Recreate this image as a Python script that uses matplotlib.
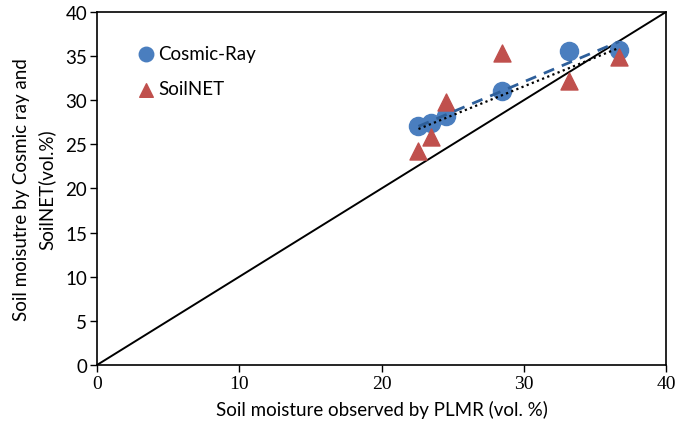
import numpy as np
import matplotlib
matplotlib.use("Agg")
import matplotlib.pyplot as plt

# PLMR observations (x) and the two sensor estimates (y), vol.%
plmr = [22.6, 23.5, 24.5, 28.5, 33.2, 36.7]
cosmic_ray = [27.1, 27.4, 28.2, 31.0, 35.6, 35.7]
soilnet = [24.2, 25.8, 29.8, 35.3, 32.2, 34.9]

x_ticks = [0, 10, 20, 30, 40]
y_ticks = [0, 5, 10, 15, 20, 25, 30, 35, 40]
y_label_lines = ["Soil moisutre by Cosmic ray and", "SoilNET(vol.%)"]

BLUE = "#4a7ebf"
RED = "#c0504d"

fig = plt.figure(figsize=(6.9, 4.27), dpi=100)
ax = fig.add_axes([0.1406, 0.1429, 0.8246, 0.8267])

# 1:1 line
ax.plot([0, 40], [0, 40], color="black", lw=1.4, zorder=1)

ax.scatter(plmr, cosmic_ray, s=170, marker="o", color=BLUE, label="Cosmic-Ray", zorder=3)
ax.scatter(plmr, soilnet, s=150, marker="^", color=RED, label="SoilNET", zorder=3)

# linear trend lines
xs = np.array([min(plmr), max(plmr)])
k, b = np.polyfit(plmr, cosmic_ray, 1)
ax.plot(xs, k * xs + b, color="#2e5f9a", lw=2, ls=(0, (4, 3)), zorder=4)
k, b = np.polyfit(plmr, soilnet, 1)
ax.plot(xs, k * xs + b, color="black", lw=1.6, ls=(0, (1, 1.5)), zorder=4)

ax.set_xlim(0, 40)
ax.set_ylim(0, 40)
ax.set_xticks(x_ticks)
ax.set_yticks(y_ticks)
ax.set_xticklabels([str(t) for t in x_ticks], family="Liberation Serif", fontsize=14)
ax.set_yticklabels([str(t) for t in y_ticks], family="Lato", fontsize=13.5)
ax.tick_params(direction="out", length=5, width=1, color="black", pad=2)
for sp in ax.spines.values():
    sp.set_linewidth(1.2)

ax.set_xlabel("Soil moisture observed by PLMR (vol. %)", family="Lato", fontsize=13.5, labelpad=6)

# two-line y label, each line centred on the axes
y_mid = 0.1429 + 0.8267 / 2
for x_pos, line in zip([22 / 690, 47 / 690], y_label_lines):
    fig.text(x_pos, y_mid, line, rotation=90, ha="center", va="center",
             family="Lato", fontsize=13.5)

leg = ax.legend(loc="upper left", bbox_to_anchor=(0.04, 0.955), frameon=False,
                prop={"family": "Lato", "size": 13.5}, handlelength=1.0,
                handletextpad=0.15, labelspacing=1.0, markerscale=0.8)

fig.savefig("out.png", dpi=100)
